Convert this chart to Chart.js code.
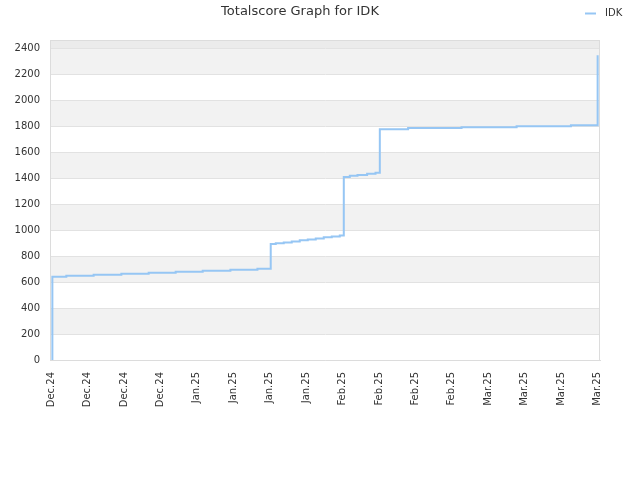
<!DOCTYPE html>
<html>
<head>
<meta charset="utf-8">
<script src="https://cdn.jsdelivr.net/npm/chart.js@4/dist/chart.umd.min.js"></script>
<style>
  html, body { margin: 0; padding: 0; background: #ffffff; }
  #wrap { width: 640px; height: 480px; }
</style>
</head>
<body>
<div id="wrap"><canvas id="c" width="640" height="480"></canvas></div>
<script>
// ---- Data ----
const chartTitle = 'Totalscore Graph for IDK';
const seriesName = 'IDK';
const xLabels = ['Dec.24','Dec.24','Dec.24','Dec.24','Jan.25','Jan.25','Jan.25','Jan.25',
                 'Feb.25','Feb.25','Feb.25','Feb.25','Mar.25','Mar.25','Mar.25','Mar.25'];
// position of each score change, in units of the x-axis label spacing
const xPos = [0.033, 0.035, 0.418, 1.168, 1.929, 2.679, 3.420, 4.162, 4.923, 5.665,
              6.030, 6.168, 6.387, 6.607, 6.827, 7.047, 7.266, 7.486, 7.706, 7.926,
              8.036, 8.201, 8.412, 8.676, 8.907,
              9.025, 9.802, 11.269, 12.780, 14.272, 15.005];
const scores = [0, 641, 649, 656, 664, 672, 679, 687, 695, 702,
                893, 899, 905, 913, 921, 928, 936, 944, 951, 959,
                1408, 1418, 1425, 1433, 1441,
                1777, 1785, 1792, 1800, 1808, 2346];
const yTicks = [0, 200, 400, 600, 800, 1000, 1200, 1400, 1600, 1800, 2000, 2200, 2400];

const lineColor = 'rgb(150,198,244)';
const textColor = '#333333';
const fontFamily = "'DejaVu Sans', Verdana, sans-serif";

const bandsPlugin = {
  id: 'bands',
  beforeDraw(chart) {
    const {ctx, chartArea: {left, right, top, bottom}, scales: {y}} = chart;
    ctx.save();
    ctx.fillStyle = '#ffffff';
    ctx.fillRect(0, 0, chart.width, chart.height);
    for (let i = 0; i < yTicks.length; i++) {
      const v0 = yTicks[i];
      const v1 = i + 1 < yTicks.length ? yTicks[i + 1] : y.max;
      const p0 = y.getPixelForValue(v0), p1 = y.getPixelForValue(v1);
      ctx.fillStyle = (i === yTicks.length - 1) ? '#ebebeb' : (i % 2 === 1 ? '#f2f2f2' : '#ffffff');
      ctx.fillRect(left, p1, right - left, p0 - p1);
    }
    ctx.restore();
  },
  beforeDatasetsDraw(chart) {
    const {ctx, chartArea: {left, right, top, bottom}} = chart;
    ctx.save();
    ctx.strokeStyle = '#dcdcdc';
    ctx.lineWidth = 1;
    ctx.beginPath();
    ctx.moveTo(left, top + 0.5); ctx.lineTo(right, top + 0.5);
    ctx.moveTo(Math.round(right) - 0.5, top); ctx.lineTo(Math.round(right) - 0.5, bottom);
    ctx.stroke();
    ctx.restore();
  },
  afterDraw(chart) {
    const {ctx} = chart;
    const ds = chart.data.datasets[0];
    ctx.save();
    ctx.strokeStyle = ds.borderColor;
    ctx.lineWidth = 2;
    ctx.beginPath();
    ctx.moveTo(585, 13.5); ctx.lineTo(596, 13.5);
    ctx.stroke();
    ctx.fillStyle = textColor;
    ctx.font = '10px ' + fontFamily;
    ctx.textBaseline = 'middle';
    ctx.textAlign = 'left';
    ctx.fillText(ds.label, 605, 13);
    ctx.restore();
  }
};

new Chart(document.getElementById('c'), {
  type: 'line',
  data: {
    datasets: [{
      label: seriesName,
      data: xPos.map((x, i) => ({x: x, y: scores[i]})),
      borderColor: lineColor,
      backgroundColor: lineColor,
      borderWidth: 2,
      pointRadius: 0,
      stepped: 'before',
      fill: false,
      tension: 0
    }]
  },
  options: {
    responsive: false,
    animation: false,
    events: [],
    layout: { padding: { left: 0, right: 40, top: 0, bottom: 0 } },
    plugins: {
      legend: { display: false },
      tooltip: { enabled: false },
      title: {
        display: true,
        text: chartTitle,
        color: textColor,
        font: { family: fontFamily, size: 13, weight: 'normal', lineHeight: 1.2 },
        padding: { top: 4, bottom: 20.4 }
      }
    },
    scales: {
      x: {
        type: 'linear',
        min: -0.03,
        max: 15.07,
        afterBuildTicks: (s) => { s.ticks = xLabels.map((_, i) => ({value: i})); },
        afterFit: (s) => { s.height = 120; },
        grid: { display: false, drawTicks: false },
        border: { display: true, color: '#dcdcdc' },
        ticks: {
          autoSkip: false,
          minRotation: 90,
          maxRotation: 90,
          padding: 12,
          color: textColor,
          font: { family: fontFamily, size: 10 },
          callback: (v) => xLabels[Math.round(v)]
        }
      },
      y: {
        min: 0,
        max: Math.max(...scores) * 1.05,
        afterBuildTicks: (s) => { s.ticks = yTicks.map(v => ({value: v})); },
        afterFit: (s) => { s.width = 50; },
        grid: { color: '#e2e2e2', drawTicks: false },
        border: { display: true, color: '#dcdcdc' },
        ticks: {
          padding: 10,
          color: textColor,
          font: { family: fontFamily, size: 10 },
          callback: (v) => String(v)
        }
      }
    }
  },
  plugins: [bandsPlugin]
});
</script>
</body>
</html>
